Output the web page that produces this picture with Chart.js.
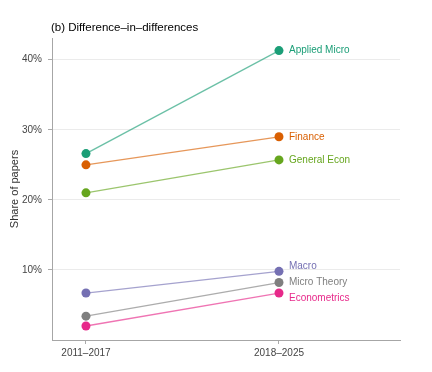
<!DOCTYPE html>
<html>
<head>
<meta charset="utf-8">
<script src="https://cdn.jsdelivr.net/npm/chart.js@4.4.1/dist/chart.umd.min.js"></script>
<style>
html,body{margin:0;padding:0;background:#fff;}
#wrap{width:432px;height:372px;position:relative;}
</style>
</head>
<body>
<div id="wrap"><canvas id="c" width="432" height="372"></canvas></div>
<script>
const periods = ['2011–2017', '2018–2025'];
const seriesNames = ['Applied Micro', 'Finance', 'General Econ', 'Macro', 'Micro Theory', 'Econometrics'];
const appliedMicro = [26.6, 41.3];
const finance = [25.0, 29.0];
const generalEcon = [21.0, 25.7];
const macro = [6.7, 9.8];
const microTheory = [3.4, 8.2];
const econometrics = [2.0, 6.7];
const yTicks = [10, 20, 30, 40];
const titleText = '(b) Difference–in–differences';
const yTitle = 'Share of papers';

const seriesValues = [appliedMicro, finance, generalEcon, macro, microTheory, econometrics];
const colors = ['#1b9e77', '#d95f02', '#66a61e', '#7570b3', '#7f7f7f', '#e7298a'];
const lineColors = ['rgba(27,158,119,0.65)', 'rgba(217,95,2,0.65)', 'rgba(102,166,30,0.65)', 'rgba(117,112,179,0.65)', 'rgba(127,127,127,0.65)', 'rgba(231,41,138,0.65)'];

const FONT = "'Liberation Sans', Arial, Helvetica, sans-serif";

const datasets = seriesNames.map((name, i) => ({
  label: name,
  data: seriesValues[i].map((v, j) => ({x: j, y: v})),
  borderColor: lineColors[i],
  backgroundColor: colors[i],
  pointBackgroundColor: colors[i],
  pointBorderColor: colors[i],
  pointRadius: 4.5,
  pointBorderWidth: 0,
  borderWidth: 1.3,
  showLine: true,
  tension: 0
}));

const endLabels = {
  id: 'endLabels',
  afterDatasetsDraw(chart) {
    const ctx = chart.ctx;
    const items = chart.data.datasets.map((ds, i) => {
      const meta = chart.getDatasetMeta(i);
      const pt = meta.data[meta.data.length - 1];
      return {text: ds.label, x: pt.x + 10, y: pt.y, color: colors[i]};
    });
    // simple repel
    const sorted = items.slice().sort((a, b) => a.y - b.y);
    const gap = 16;
    for (let iter = 0; iter < 50; iter++) {
      let moved = false;
      for (let k = 1; k < sorted.length; k++) {
        const d = sorted[k].y - sorted[k - 1].y;
        if (d < gap) {
          const push = (gap - d) / 2;
          sorted[k].y += push; sorted[k - 1].y -= push; moved = true;
        }
      }
      if (!moved) break;
    }
    ctx.save();
    ctx.font = '10px ' + FONT;
    ctx.textAlign = 'left';
    ctx.textBaseline = 'middle';
    items.forEach(it => { ctx.fillStyle = it.color; ctx.fillText(it.text, it.x, it.y); });
    ctx.restore();
  }
};

const titlePlugin = {
  id: 'leftTitle',
  afterDraw(chart) {
    const ctx = chart.ctx;
    ctx.save();
    ctx.font = '11.5px ' + FONT;
    ctx.fillStyle = '#000';
    ctx.textAlign = 'left';
    ctx.textBaseline = 'middle';
    ctx.fillText(titleText, chart.chartArea.left - 1, 28);
    ctx.restore();
  }
};

new Chart(document.getElementById('c'), {
  type: 'scatter',
  data: {datasets},
  options: {
    responsive: false,
    animation: false,
    layout: {padding: {top: 38, right: 32, left: 0, bottom: 0}},
    plugins: {legend: {display: false}, tooltip: {enabled: false}, title: {display: false}},
    scales: {
      x: {
        type: 'linear',
        min: -0.176,
        max: 1.627,
        afterBuildTicks(scale) { scale.ticks = periods.map((p, i) => ({value: i})); },
        afterFit(scale) { scale.height = 32; },
        ticks: {
          callback: (v) => periods[v] !== undefined ? periods[v] : '',
          font: {size: 10, family: FONT},
          color: '#444',
          padding: 3,
          maxRotation: 0,
          autoSkip: false
        },
        grid: {drawOnChartArea: false, drawTicks: true, tickLength: 4, tickColor: '#aaa'},
        border: {display: true, color: '#a6a6a6', width: 1}
      },
      y: {
        min: 0,
        max: 43.1,
        afterBuildTicks(scale) { scale.ticks = yTicks.map(v => ({value: v})); },
        afterFit(scale) { scale.width = 52; },
        ticks: {
          callback: (v) => v + '%',
          font: {size: 10, family: FONT},
          color: '#444',
          padding: 6
        },
        grid: {color: '#ebebeb', lineWidth: 1, drawTicks: true, tickLength: 4, tickColor: '#aaa'},
        border: {display: true, color: '#a6a6a6', width: 1},
        title: {display: true, text: yTitle, font: {size: 11, family: FONT}, color: '#333', padding: {top: 8, bottom: 0}}
      }
    }
  },
  plugins: [endLabels, titlePlugin]
});
</script>
</body>
</html>
